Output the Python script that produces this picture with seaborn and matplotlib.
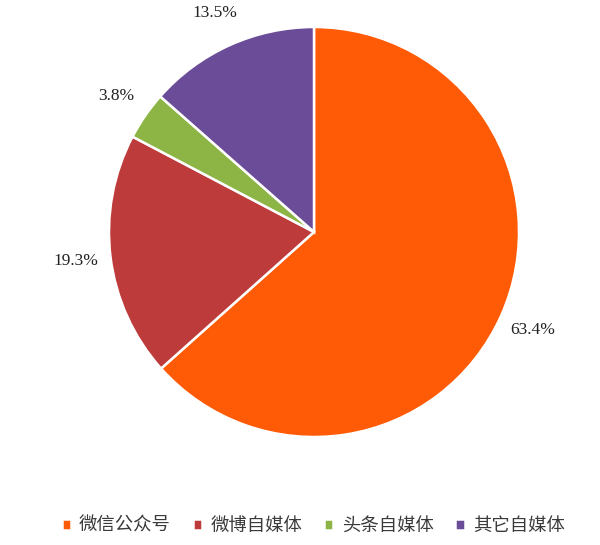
import matplotlib
matplotlib.use("Agg")
import matplotlib.pyplot as plt
import seaborn as sns

# share of self-media platforms
labels = ["微信公众号", "微博自媒体", "头条自媒体", "其它自媒体"]
shares = [63.4, 19.3, 3.8, 13.5]
colors = ["#FF5A05", "#BE3B3B", "#8CB545", "#6A4C98"]

sns.set_theme(style="white")
plt.rcParams['font.family'] = ['Noto Sans CJK SC', 'DejaVu Sans']

fig = plt.figure(figsize=(6, 5.45), dpi=100)
# pie centre ~ (314, 232) px, radius ~ 205 px
ax = fig.add_axes([109 / 600, 1 - 437 / 545, 410 / 600, 410 / 545])

wedges, texts, autotexts = ax.pie(
    shares, colors=colors, startangle=90, counterclock=False,
    autopct="%.1f%%", pctdistance=1.17, radius=1,
    wedgeprops=dict(edgecolor="white", linewidth=1.8),
)
for t in autotexts:
    t.set_family(['Liberation Serif', 'DejaVu Serif'])
    t.set_fontsize(12.5)
    t.set_color("#222222")

ax.set_xlim(-1, 1)
ax.set_ylim(-1, 1)
ax.set_aspect("equal")
ax.axis("off")

fig.legend(wedges, labels, loc="center", bbox_to_anchor=(0.522, 0.035),
           ncol=4, frameon=False, fontsize=13.2, handlelength=0.5,
           handleheight=0.5, handletextpad=0.45, columnspacing=1.2,
           labelcolor="#3a3a3a")

fig.savefig("out.png", dpi=100, facecolor="white")
